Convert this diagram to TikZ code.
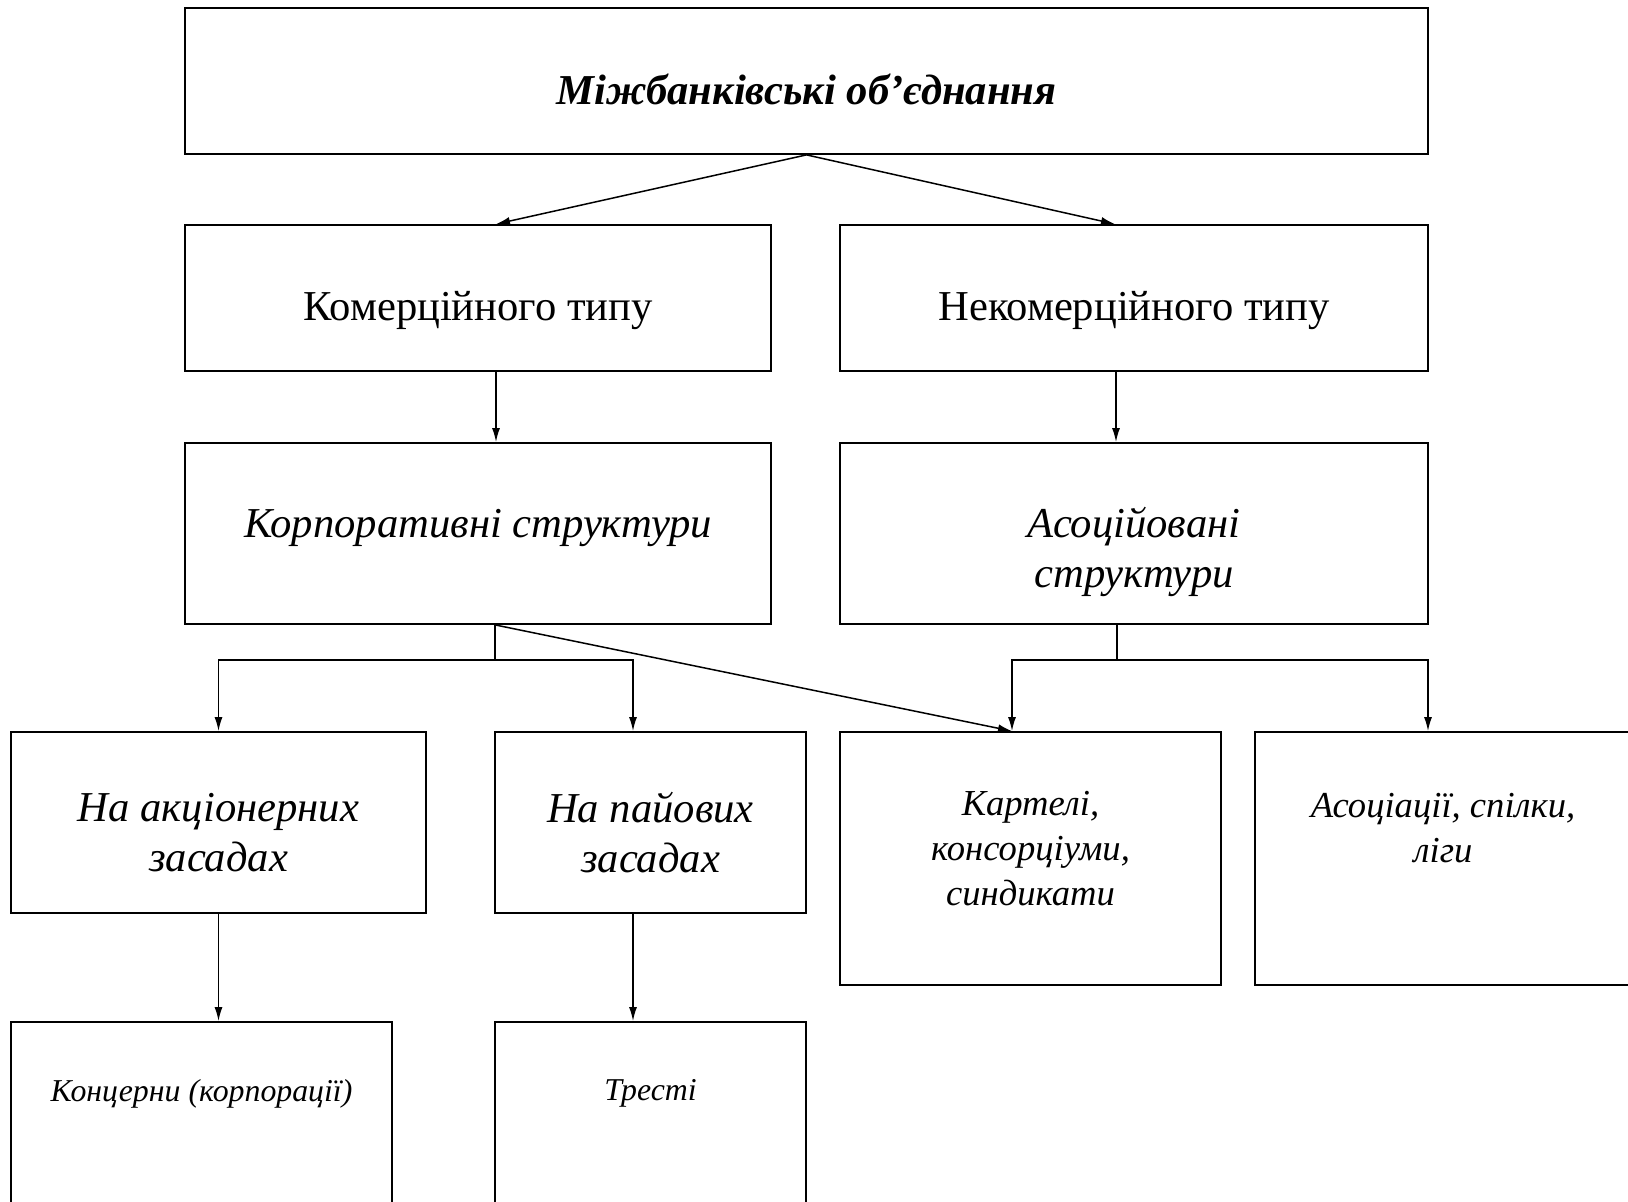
\documentclass[tikz,border=0pt]{standalone}
\usepackage{fontspec}
\setmainfont{Liberation Serif}
\usetikzlibrary{arrows.meta, positioning}

\begin{document}
\begin{tikzpicture}[x=0.5pt, y=-0.5pt,
    node distance=28pt,
    box/.style={rectangle, draw, line width=0.9pt, inner sep=0pt},
    txt/.style={align=center, inner sep=0pt, font=\fontsize{21.3}{25}\selectfont},
    itxt/.style={txt, font=\itshape\fontsize{21.3}{25}\selectfont},
    note/.style={align=center, inner sep=0pt, font=\itshape\fontsize{18.3}{22.5}\selectfont},
    line/.style={line width=0.75pt},
    arrow/.style={-{Latex[length=7pt, width=4pt]}, line width=0.75pt}
]
\useasboundingbox (0,0) rectangle (1628,1202);
\clip (0,0) rectangle (1628,1202);

% boxes
\node[box, minimum width=621.5pt, minimum height=73pt] (top) at (806.5,81) {};
\node[box, minimum width=293pt, minimum height=73pt] (kom) at (478,298) {};
\node[box, minimum width=294pt, minimum height=73pt] (nekom) at (1134,298) {};
\node[box, minimum width=293pt, minimum height=90.5pt] (korp) at (478,533.5) {};
\node[box, minimum width=294pt, minimum height=90.5pt] (asoc) at (1134,533.5) {};
\node[box, minimum width=207.5pt, minimum height=90.5pt] (akc) at (218.5,822.5) {};
\node[box, minimum width=155.5pt, minimum height=90.5pt] (pai) at (650.5,822.5) {};
\node[box, minimum width=190.5pt, minimum height=126.5pt] (kart) at (1030.5,858.5) {};
\node[box, minimum width=188pt, minimum height=126.5pt] (asso) at (1443,858.5) {};
\node[box, minimum width=190.5pt, minimum height=126.5pt] (konc) at (201.5,1148.5) {};
\node[box, minimum width=155.5pt, minimum height=126.5pt] (trest) at (650.5,1148.5) {};

% texts
\node[txt, font=\bfseries\itshape\fontsize{21.3}{25}\selectfont] (toptxt) at ([yshift=-4.3pt]top.center) {Міжбанківські об’єднання};
\node[txt] (komtxt) at ([yshift=-6.2pt]kom.center) {Комерційного типу};
\node[txt] (nekomtxt) at ([yshift=-6.2pt]nekom.center) {Некомерційного типу};
\node[itxt] (korptxt) at ([yshift=2.6pt]korp.center) {Корпоративні структури};
\node[itxt] (asoctxt) at ([yshift=-9.3pt]asoc.center) {Асоційовані\\структури};
\node[itxt] (akctxt) at ([yshift=-5.2pt]akc.center) {На акціонерних\\засадах};
\node[itxt] (paitxt) at ([yshift=-5.2pt]pai.center) {На пайових\\засадах};
\node[note, below=30pt of kart.north] (karttxt) {Картелі,\\консорціуми,\\синдикати};
\node[note, below=31pt of asso.north] (assotxt) {Асоціації, спілки,\\ліги};
\node[note, below=29pt of konc.north, font=\itshape\fontsize{15.9}{19}\selectfont] (konctxt) {Концерни (корпорації)};
\node[note, below=29pt of trest.north, font=\itshape\fontsize{15.9}{19}\selectfont] (tresttxt) {Тресті};

% top level
\draw[arrow] (top.south) -- ([xshift=9pt]kom.north);
\draw[arrow] (top.south) -- ([xshift=-9.5pt]nekom.north);
\draw[arrow] ([xshift=9pt]kom.south) -- ([xshift=9pt]korp.north);
\draw[arrow] ([xshift=-9pt]nekom.south) -- ([xshift=-9pt]asoc.north);

% branches
\coordinate (kj) at (495,660);
\coordinate (aj) at (1117,660);
\draw[line] (korp.south -| kj) -- (kj);
\draw[arrow] (kj) -| (akc.north);
\draw[arrow] (kj) -| ([xshift=-8.75pt]pai.north);
\draw[arrow] (korp.south -| kj) -- ([xshift=-9.25pt]kart.north);
\draw[line] (asoc.south -| aj) -- (aj);
\draw[arrow] (aj) -| ([xshift=-9.25pt]kart.north);
\draw[arrow] (aj) -| ([xshift=-7.5pt]asso.north);

\draw[arrow] (akc.south) -- (akc.south |- konc.north);
\draw[arrow] ([xshift=-8.75pt]pai.south) -- ([xshift=-8.75pt]pai.south |- trest.north);

\end{tikzpicture}
\end{document}
